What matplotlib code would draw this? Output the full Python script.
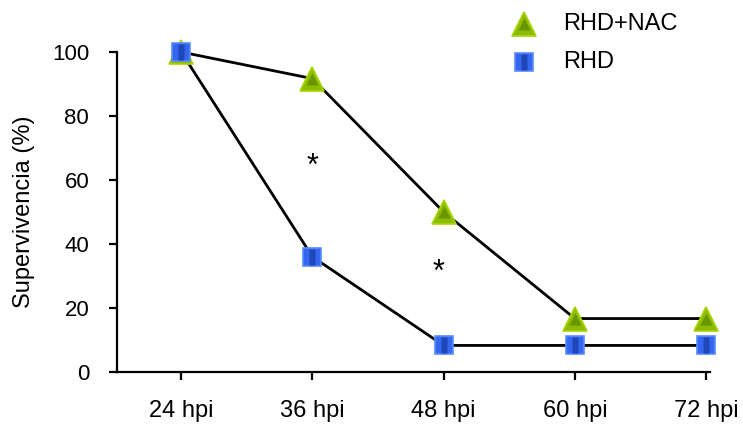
import matplotlib.pyplot as plt
from matplotlib.lines import Line2D
from matplotlib.path import Path

plt.rcParams['font.family'] = ['Liberation Sans', 'DejaVu Sans']

# datos
tiempos = ['24 hpi', '36 hpi', '48 hpi', '60 hpi', '72 hpi']
rhd_nac = [100, 91.7, 50, 16.7, 16.7]
rhd = [100, 36, 8.3, 8.3, 8.3]
asteriscos_x = [1, 1.96]
asteriscos_y = [64, 31]
series = ['RHD+NAC', 'RHD']

verde = '#8cbc00'
verde_borde = '#a8d400'
verde_osc = '#6a9400'
azul = '#3566f0'
azul_borde = '#5a8cff'
azul_osc = '#1f47b8'

# franja vertical oscura dentro de los cuadrados
franja = Path([(-0.22, -0.5), (0.22, -0.5), (0.22, 0.5), (-0.22, 0.5), (-0.22, -0.5)],
              [Path.MOVETO, Path.LINETO, Path.LINETO, Path.LINETO, Path.CLOSEPOLY])

estilo_tri = dict(marker='^', ms=17, mfc=verde, mec=verde_borde, mew=1.2)
estilo_tri_in = dict(marker='^', ms=9, mfc=verde_osc, mec='none')
estilo_cua = dict(marker='s', ms=13.5, mfc=azul, mec=azul_borde, mew=1.2)
estilo_cua_in = dict(marker=franja, ms=11, mfc=azul_osc, mec='none')

fig = plt.figure(figsize=(7.43, 4.26), dpi=100)
ax = fig.add_axes([0.1575, 0.1268, 0.798, 0.751])

x = range(len(tiempos))
ax.plot(x, rhd_nac, color='black', lw=2.0, zorder=2)
ax.plot(x, rhd, color='black', lw=2.0, zorder=2)
ax.plot(x, rhd_nac, ls='none', zorder=3, clip_on=False, **estilo_tri)
ax.plot(x, rhd_nac, ls='none', zorder=3.1, clip_on=False, **estilo_tri_in)
ax.plot(x, rhd, ls='none', zorder=4, clip_on=False, **estilo_cua)
ax.plot(x, rhd, ls='none', zorder=4.1, clip_on=False, **estilo_cua_in)

for xa, ya in zip(asteriscos_x, asteriscos_y):
    ax.text(xa, ya, '*', fontsize=22, ha='center', va='center')

ax.set_xlim(-0.49, 4.03)
ax.set_ylim(0, 100)
ax.set_yticks([0, 20, 40, 60, 80, 100])
ax.set_xticks(list(x))
ax.set_xticklabels(tiempos)
ax.tick_params(width=1.6, length=6, direction='out')
ax.tick_params(axis='x', labelsize=17, pad=14)
ax.tick_params(axis='y', labelsize=16, pad=14)
ax.set_ylabel('Supervivencia (%)', fontsize=17, labelpad=12)

for lado in ['top', 'right']:
    ax.spines[lado].set_visible(False)
for lado in ['left', 'bottom']:
    ax.spines[lado].set_linewidth(1.6)

# leyenda dibujada a mano en coordenadas de figura
estilos = [(estilo_tri, estilo_tri_in), (estilo_cua, estilo_cua_in)]
filas = [1 - 24 / 426, 1 - 62 / 426]
for nombre, (fuera, dentro), yf in zip(series, estilos, filas):
    for est in (fuera, dentro):
        fig.add_artist(Line2D([524 / 743], [yf], transform=fig.transFigure,
                              ls='none', **est))
    fig.text(563 / 743, yf, nombre, fontsize=17, ha='left', va='center')

fig.savefig('out.png', dpi=100)
